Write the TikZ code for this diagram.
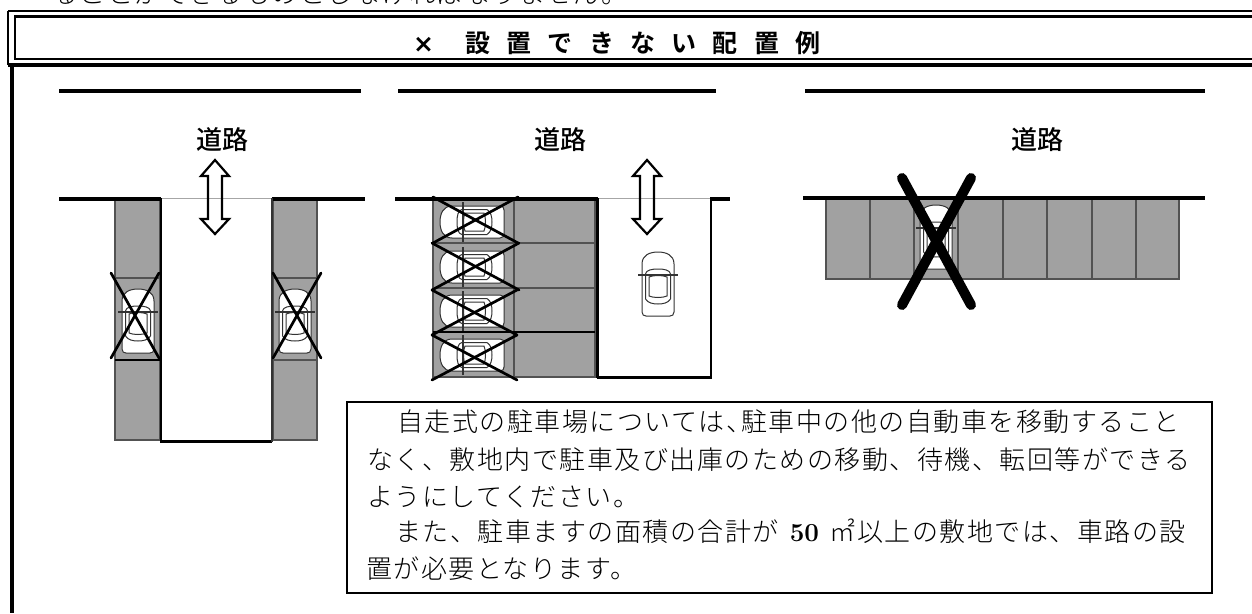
\documentclass[tikz,border=0pt]{standalone}
\usepackage{fontspec}
\setmainfont{Noto Sans CJK JP}[BoldFont={Noto Sans CJK JP Bold}]
\newfontfamily\lightcjk{Noto Sans CJK JP Light}[LetterSpace=5.8]
\newfontfamily\mediumcjk{Noto Sans CJK JP Medium}
\newfontfamily\numfont{Latin Modern Roman}
\newfontfamily\symfont{DejaVu Sans}
\newcommand{\titlegap}{\hspace{16.3pt}}
\tikzset{
  pics/carshape/.style={code={
    \draw[carline,fill=white] (-16,-20) .. controls (-16,-29) and (-8,-32) .. (0,-32)
       .. controls (8,-32) and (16,-29) .. (16,-20) -- (16,28)
       .. controls (16,31) and (14,32) .. (12,32) -- (-12,32)
       .. controls (-14,32) and (-16,31) .. (-16,28) -- cycle;
    \draw[carline,fill=white] (-12.5,-10) .. controls (-12,-14) and (-6,-15) .. (0,-15)
       .. controls (6,-15) and (12,-14) .. (12.5,-10) -- (12.5,15)
       .. controls (10,19) and (5,20) .. (0,20)
       .. controls (-5,20) and (-10,19) .. (-12.5,15) -- cycle;
    \draw[carline] (-9,-7) .. controls (-5,-9) and (5,-9) .. (9,-7) -- (9,12)
       .. controls (5,14) and (-5,14) .. (-9,12) -- cycle;
    \draw[carline,line width=1.4pt] (-20,-9) -- (20,-9);
  }},
  pics/twoway/.style={code={
    \draw[bigarrow,line join=miter] (0,-37) -- (14,-21) -- (7,-21) -- (7,22) -- (14,22)
       -- (0,37) -- (-14,22) -- (-7,22) -- (-7,-21) -- (-14,-21) -- cycle;
  }}
}
\begin{document}
\begin{tikzpicture}[x=1pt,y=-1pt,
  road/.style={line width=3.5pt,black},
  thinroad/.style={line width=1pt,black!35},
  wall/.style={line width=2.8pt,black},
  stall/.style={fill=black!37,draw=black!68,line width=1.3pt},
  divider/.style={line width=1.3pt,black!68},
  hardline/.style={line width=1.6pt,black},
  bigarrow/.style={line width=2.2pt},
  cross/.style={line width=2.7pt,black,line cap=round},
  bigcross/.style={line width=10pt,black,line cap=round},
  roadlabel/.style={font=\mediumcjk\fontsize{26}{26}\selectfont,anchor=center,inner sep=0pt},
  boxline/.style={anchor=base west,inner sep=0pt,font=\lightcjk\fontsize{26}{26}\selectfont},
  carline/.style={draw=black!80,line width=1pt}]
\useasboundingbox (0,0) rectangle (1252,613);
% line cut off by the top edge
\node[boxline] (cut) at (52,4) {ることができるものとしなければなりません。};
% frame
\draw[line width=3.4pt] (12,65) -- (12,613);
\draw[line width=2.4pt] (8,11.2) -- (1260,11.2);
\draw[line width=2.4pt] (8,11.2) -- (8,65);
\draw[line width=3.6pt] (8,65) -- (1260,65);
\draw[line width=2.2pt] (1260,16.5) -- (15,16.5) -- (15,59) -- (1260,59);
\node[inner sep=0pt,anchor=base west,font=\bfseries\fontsize{25}{25}\selectfont] (title) at (413,52)
  {{\symfont ×}\hspace{31pt}設\titlegap 置\titlegap で\titlegap き\titlegap な\titlegap い\titlegap 配\titlegap 置\titlegap 例};
% road lines above labels
\draw[road] (59,91) -- (361,91);
\draw[road] (398,91) -- (716,91);
\draw[road] (805,91) -- (1205,91);
\node[roadlabel] (r1) at (222,140) {道路};
\node[roadlabel] (r2) at (560,140) {道路};
\node[roadlabel] (r3) at (1037,140) {道路};
% ---------- panel 1
\fill[black!37] (115,199) rectangle (160,440);
\fill[black!37] (273,199) rectangle (317,440);
\draw[stall,fill=none] (115,199) rectangle (160,440);
\draw[stall,fill=none] (273,199) rectangle (317,440);
\draw[divider] (115,278) -- (160,278);
\draw[divider] (273,278) -- (317,278);
\draw[hardline] (115,360) -- (160,360);
\draw[divider] (273,360) -- (317,360);
\pic at (138,321) {carshape};
\pic at (295,321) {carshape};
\draw[thinroad] (160,198.5) -- (272,198.5);
\draw[road] (59,199) -- (161,199);
\draw[road] (272,199) -- (365,199);
\draw[wall] (161,198) -- (161,441.5) -- (272,441.5);
\draw[line width=1.8pt,black!80] (272,198) -- (272,441.5);
\pic at (215,197) {twoway};
\draw[cross] (111,273) -- (159,358);
\draw[cross] (159,273) -- (111,358);
\draw[cross] (273,273) -- (321,358);
\draw[cross] (321,273) -- (273,358);
% ---------- panel 2
\fill[black!37] (433,199) rectangle (595,377);
\pic[rotate=90] at (472,222) {carshape};
\pic[rotate=90] at (472,267) {carshape};
\pic[rotate=90] at (472,311) {carshape};
\pic[rotate=90] at (472,355) {carshape};
\draw[stall,fill=none] (433,199) rectangle (595,377);
\draw[divider] (514,199) -- (514,377);
\draw[divider] (433,243) -- (595,243);
\draw[divider] (433,288) -- (595,288);
\draw[hardline] (433,332) -- (595,332);
\draw[thinroad] (598,198.5) -- (710,198.5);
\draw[road] (395,199) -- (598,199);
\draw[road] (710,199) -- (730,199);
\draw[line width=3.4pt] (597.5,198) -- (597.5,378);
\draw[wall] (597,377.5) -- (711,377.5) -- (711,198);
\pic at (647,197) {twoway};
\pic at (658,284) {carshape};
\draw[cross] (433,197) -- (518,243);
\draw[cross] (518,197) -- (433,243);
\draw[cross] (432,243) -- (519,290);
\draw[cross] (519,243) -- (432,290);
\draw[cross] (432,290) -- (517,335);
\draw[cross] (517,290) -- (432,335);
\draw[cross] (432,335) -- (517,380);
\draw[cross] (517,335) -- (432,380);
% ---------- panel 3
\fill[black!37] (826,199) rectangle (1179,279);
\pic at (936,237) {carshape};
\draw[stall,fill=none] (826,199) rectangle (1179,279);
\foreach \dx in {870,914,958,1003,1047,1092,1136}{\draw[divider] (\dx,199) -- (\dx,279);}
\draw[road] (803,198) -- (1205,198);
\draw[bigcross] (902,178) -- (971,305);
\draw[bigcross] (971,178) -- (902,305);
% ---------- text box
\draw[line width=1.5pt,fill=white] (347,402) rectangle (1212,593);
\node[boxline] (l1) at (397,431) {自走式の駐車場については、\hspace{-.42em}駐車中の他の自動車を移動すること};
\node[boxline] (l2) at (367,469) {なく、敷地内で駐車及び出庫のための移動、待機、転回等ができる};
\node[boxline] (l3) at (367,506) {ようにしてください。};
\node[boxline] (l4) at (395,541) {また、駐車ますの面積の合計が\hspace{11pt}{\numfont\bfseries 50}\hspace{10pt}㎡\hspace{2pt}以上の敷地では、車路の設};
\node[boxline] (l5) at (366,578) {置が必要となります。};
\end{tikzpicture}
\end{document}
